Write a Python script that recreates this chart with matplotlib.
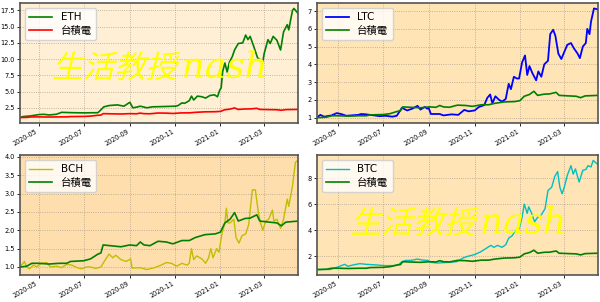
import matplotlib
matplotlib.use("Agg")
import matplotlib.pyplot as plt
import matplotlib.dates as mdates
from matplotlib.textpath import TextPath
from matplotlib.font_manager import FontProperties
from matplotlib.patches import PathPatch
from matplotlib.path import Path
from matplotlib.transforms import Affine2D, ScaledTranslation
import pandas as pd

plt.rcParams['font.family'] = ['DejaVu Sans', 'Noto Sans CJK TC']

# --- data (normalised to first day = 1) ---
eth_dates = ["2020-04-06", "2020-04-10", "2020-04-20", "2020-05-01", "2020-05-08", "2020-05-15", "2020-05-25",
             "2020-06-01", "2020-06-15", "2020-07-01", "2020-07-20", "2020-07-25", "2020-07-28", "2020-08-04",
             "2020-08-15", "2020-08-24", "2020-09-01", "2020-09-05", "2020-09-10", "2020-09-15", "2020-09-24",
             "2020-10-01", "2020-10-18", "2020-11-01", "2020-11-05", "2020-11-10", "2020-11-14", "2020-11-20",
             "2020-11-23", "2020-11-26", "2020-12-01", "2020-12-07", "2020-12-12", "2020-12-18", "2020-12-24",
             "2020-12-28", "2020-12-31", "2021-01-02", "2021-01-04", "2021-01-07", "2021-01-10", "2021-01-13",
             "2021-01-17", "2021-01-20", "2021-01-25", "2021-01-31", "2021-02-04", "2021-02-07", "2021-02-10",
             "2021-02-15", "2021-02-20", "2021-02-27", "2021-03-01", "2021-03-06", "2021-03-09", "2021-03-13",
             "2021-03-18", "2021-03-23", "2021-03-27", "2021-04-01", "2021-04-03", "2021-04-08", "2021-04-10",
             "2021-04-15"]
eth = [1.0, 1.15, 1.25, 1.45, 1.5, 1.4, 1.5, 1.8, 1.75, 1.72, 1.75, 2.3, 2.65, 2.85, 2.95, 2.75, 3.35, 2.5,
       2.6, 2.75, 2.5, 2.65, 2.7, 2.75, 2.85, 3.25, 3.2, 3.6, 4.3, 3.7, 4.3, 4.2, 4.0, 4.4, 4.5, 4.2, 5.2, 5.6,
       8.1, 9.4, 8.0, 9.5, 10.4, 11.4, 12.4, 12.5, 13.7, 13.0, 13.5, 11.9, 10.2, 9.6, 10.9, 13.0, 12.4, 13.5,
       12.9, 11.4, 14.2, 15.3, 14.5, 17.5, 17.8, 17.1]

ltc_dates = ["2020-04-02", "2020-04-07", "2020-04-12", "2020-04-22", "2020-04-29", "2020-05-05", "2020-05-12",
             "2020-05-28", "2020-06-01", "2020-06-08", "2020-06-26", "2020-07-04", "2020-07-13", "2020-07-19",
             "2020-07-26", "2020-08-02", "2020-08-09", "2020-08-16", "2020-08-20", "2020-08-26", "2020-08-29",
             "2020-08-31", "2020-09-03", "2020-09-15", "2020-09-20", "2020-10-01", "2020-10-10", "2020-10-18",
             "2020-10-24", "2020-11-01", "2020-11-07", "2020-11-14", "2020-11-18", "2020-11-22", "2020-11-25",
             "2020-11-29", "2020-12-04", "2020-12-08", "2020-12-13", "2020-12-17", "2020-12-20", "2020-12-24",
             "2020-12-28", "2020-12-31", "2021-01-04", "2021-01-08", "2021-01-11", "2021-01-14", "2021-01-18",
             "2021-01-23", "2021-01-26", "2021-01-30", "2021-02-03", "2021-02-08", "2021-02-11", "2021-02-15",
             "2021-02-18", "2021-02-22", "2021-02-26", "2021-03-02", "2021-03-06", "2021-03-11", "2021-03-15",
             "2021-03-20", "2021-03-23", "2021-03-27", "2021-03-31", "2021-04-02", "2021-04-05", "2021-04-07",
             "2021-04-11", "2021-04-16"]
ltc = [1.0, 1.15, 1.05, 1.12, 1.25, 1.2, 1.1, 1.15, 1.2, 1.18, 1.08, 1.1, 1.05, 1.1, 1.55, 1.4, 1.5, 1.66,
       1.45, 1.6, 1.5, 1.55, 1.2, 1.2, 1.12, 1.18, 1.15, 1.43, 1.35, 1.4, 1.6, 1.7, 2.1, 2.3, 1.8, 2.2, 2.0,
       1.9, 2.05, 2.9, 2.6, 3.3, 3.2, 3.2, 4.1, 4.5, 3.4, 3.9, 3.5, 3.1, 3.6, 3.3, 4.0, 4.2, 5.7, 5.95, 5.6,
       4.6, 4.3, 4.7, 5.1, 5.2, 4.9, 4.6, 4.35, 5.0, 5.2, 6.0, 5.7, 6.4, 7.15, 7.1]

bch_dates = ["2020-04-06", "2020-04-10", "2020-04-12", "2020-04-15", "2020-04-19", "2020-04-24", "2020-04-29",
             "2020-05-01", "2020-05-05", "2020-05-12", "2020-05-17", "2020-05-26", "2020-06-01", "2020-06-08",
             "2020-06-15", "2020-06-22", "2020-06-28", "2020-07-05", "2020-07-10", "2020-07-17", "2020-07-24",
             "2020-07-30", "2020-08-04", "2020-08-09", "2020-08-13", "2020-08-20", "2020-08-27", "2020-09-02",
             "2020-09-04", "2020-09-15", "2020-09-24", "2020-10-04", "2020-10-13", "2020-10-20", "2020-10-27",
             "2020-11-03", "2020-11-10", "2020-11-17", "2020-11-20", "2020-11-23", "2020-11-26", "2020-11-30",
             "2020-12-07", "2020-12-12", "2020-12-16", "2020-12-19", "2020-12-22", "2020-12-27", "2020-12-30",
             "2021-01-03", "2021-01-07", "2021-01-09", "2021-01-11", "2021-01-14", "2021-01-19", "2021-01-22",
             "2021-01-26", "2021-01-30", "2021-02-04", "2021-02-08", "2021-02-13", "2021-02-17", "2021-02-21",
             "2021-02-24", "2021-02-27", "2021-03-03", "2021-03-07", "2021-03-12", "2021-03-14", "2021-03-18",
             "2021-03-23", "2021-03-27", "2021-04-01", "2021-04-03", "2021-04-08", "2021-04-12", "2021-04-15"]
bch = [1.0, 1.1, 1.15, 1.0, 0.95, 1.05, 1.0, 1.05, 1.1, 1.12, 1.0, 1.02, 0.98, 1.07, 1.05, 0.98, 0.95, 1.0,
       1.0, 0.96, 1.0, 1.2, 1.35, 1.25, 1.32, 1.2, 1.15, 1.22, 0.97, 0.98, 0.93, 0.98, 1.05, 1.12, 1.1, 1.02,
       1.1, 1.05, 1.1, 1.5, 1.2, 1.3, 1.22, 1.1, 1.25, 1.5, 1.25, 1.5, 1.4, 1.9, 2.2, 2.6, 2.2, 2.2, 2.3, 1.8,
       1.65, 1.85, 1.9, 2.15, 3.1, 3.1, 2.5, 2.2, 2.0, 2.25, 2.3, 2.55, 2.25, 2.3, 2.05, 2.3, 2.85, 2.65, 3.2,
       3.85, 3.9]

btc_dates = ["2020-04-02", "2020-04-12", "2020-04-20", "2020-04-25", "2020-05-01", "2020-05-05", "2020-05-10",
             "2020-05-14", "2020-05-21", "2020-05-30", "2020-06-08", "2020-06-22", "2020-07-03", "2020-07-15",
             "2020-07-22", "2020-07-26", "2020-07-31", "2020-08-07", "2020-08-16", "2020-08-23", "2020-08-30",
             "2020-09-03", "2020-09-12", "2020-09-26", "2020-10-08", "2020-10-17", "2020-10-22", "2020-11-01",
             "2020-11-09", "2020-11-16", "2020-11-23", "2020-11-27", "2020-12-02", "2020-12-08", "2020-12-13",
             "2020-12-17", "2020-12-22", "2020-12-26", "2020-12-31", "2021-01-04", "2021-01-07", "2021-01-09",
             "2021-01-11", "2021-01-13", "2021-01-17", "2021-01-21", "2021-01-25", "2021-01-29", "2021-02-04",
             "2021-02-08", "2021-02-13", "2021-02-17", "2021-02-21", "2021-02-24", "2021-02-27", "2021-03-02",
             "2021-03-06", "2021-03-11", "2021-03-14", "2021-03-17", "2021-03-22", "2021-03-27", "2021-03-31",
             "2021-04-03", "2021-04-07", "2021-04-10", "2021-04-16"]
btc = [1.0, 1.02, 1.0, 1.1, 1.2, 1.3, 1.4, 1.25, 1.35, 1.45, 1.4, 1.35, 1.3, 1.3, 1.4, 1.6, 1.7, 1.7, 1.8,
       1.72, 1.7, 1.55, 1.5, 1.55, 1.6, 1.9, 2.0, 2.15, 2.35, 2.6, 2.85, 2.7, 2.85, 2.7, 2.9, 3.4, 3.6, 4.0,
       4.1, 5.0, 6.0, 5.65, 5.3, 5.8, 5.3, 4.65, 5.0, 5.1, 5.65, 7.05, 7.3, 8.1, 8.5, 7.3, 6.8, 7.3, 8.2,
       8.95, 8.3, 8.7, 7.7, 8.6, 8.65, 8.95, 8.85, 9.35, 9.05]

tsmc_dates = ["2020-04-02", "2020-04-07", "2020-04-15", "2020-04-22", "2020-05-01", "2020-05-15", "2020-05-29",
              "2020-06-08", "2020-06-13", "2020-07-01", "2020-07-10", "2020-07-20", "2020-07-24", "2020-07-27",
              "2020-08-10", "2020-08-20", "2020-09-01", "2020-09-10", "2020-09-15", "2020-09-20", "2020-09-28",
              "2020-10-09", "2020-10-20", "2020-10-29", "2020-11-10", "2020-11-20", "2020-11-28", "2020-12-11",
              "2020-12-25", "2021-01-01", "2021-01-07", "2021-01-14", "2021-01-20", "2021-01-25", "2021-02-03",
              "2021-02-10", "2021-02-19", "2021-02-23", "2021-03-08", "2021-03-18", "2021-03-24", "2021-03-30",
              "2021-04-16"]
tsmc = [1.0, 1.0, 1.02, 1.1, 1.1, 1.08, 1.1, 1.1, 1.15, 1.17, 1.22, 1.35, 1.38, 1.6, 1.57, 1.55, 1.6, 1.58,
        1.68, 1.6, 1.58, 1.7, 1.68, 1.63, 1.72, 1.72, 1.8, 1.88, 1.9, 1.95, 2.2, 2.3, 2.48, 2.25, 2.32, 2.33,
        2.42, 2.25, 2.22, 2.2, 2.12, 2.22, 2.25]

tsmc_label = "台積電"
watermark_cjk = "生活教授"
watermark_lat = "nash"

fig = plt.figure(figsize=(6.0, 3.02), dpi=100)

panels = [
    # name, dates, values, colour, lw, background, axes rect, x range, tsmc colour
    ("ETH", eth_dates, eth, "green", 1.2, "#FFEFD5", [0.0333, 0.5927, 0.4628, 0.3974], ("2020-04-06", "2021-04-15"), "red"),
    ("LTC", ltc_dates, ltc, "blue", 1.3, "#FFE4B5", [0.5278, 0.5927, 0.4683, 0.3974], ("2020-04-02", "2021-04-16"), "green"),
    ("BCH", bch_dates, bch, "#BFBF00", 1.0, "#FFDEAD", [0.0333, 0.0894, 0.4628, 0.3974], ("2020-04-06", "2021-04-15"), "green"),
    ("BTC", btc_dates, btc, "#00BFBF", 1.0, "#FFE4B5", [0.5278, 0.0894, 0.4683, 0.3974], ("2020-04-02", "2021-04-16"), "green"),
]

axes = []
for name, d, v, col, lw, bg, rect, xr, tcol in panels:
    ax = fig.add_axes(rect)
    ax.set_facecolor(bg)
    ax.plot(pd.to_datetime(d), v, color=col, lw=lw, label=name)
    ax.plot(pd.to_datetime(tsmc_dates), tsmc, color=tcol, lw=1.2, label=tsmc_label)
    ax.set_xlim(pd.Timestamp(xr[0]), pd.Timestamp(xr[1]))
    ax.xaxis.set_major_locator(mdates.MonthLocator(bymonth=[1, 3, 5, 7, 9, 11]))
    ax.xaxis.set_major_formatter(mdates.DateFormatter("%Y-%m"))
    ax.grid(True, linestyle=":", color="#b0a090", lw=0.6)
    ax.tick_params(labelsize=4.7, length=2.5, width=0.6, pad=1.2)
    for lab in ax.get_xticklabels():
        lab.set_rotation(30)
        lab.set_ha("right")
    for s in ax.spines.values():
        s.set_color("#555555")
        s.set_linewidth(1.2)
    ax.legend(loc="upper left", fontsize=7.5, handlelength=2.2, borderpad=0.4,
              labelspacing=0.35, framealpha=0.8)
    axes.append(ax)

axes[0].set_yticks([2.5, 5.0, 7.5, 10.0, 12.5, 15.0, 17.5])
axes[2].set_yticks([1.0, 1.5, 2.0, 2.5, 3.0, 3.5, 4.0])


def watermark(ax, cx, cy):
    size = 22.5
    p1 = TextPath((0, 0), watermark_cjk, size=size,
                  prop=FontProperties(family="Noto Sans CJK TC", weight="light"))
    p1 = Affine2D().skew_deg(14, 0).transform_path(p1)
    w1 = p1.get_extents().x1
    p2 = TextPath((w1 + 1, 0), watermark_lat, size=size * 1.15,
                  prop=FontProperties(family="DejaVu Serif", style="italic"))
    p = Path.make_compound_path(p1, p2)
    ext = p.get_extents()
    p = Affine2D().translate(-(ext.x0 + ext.x1) / 2, -(ext.y0 + ext.y1) / 2).transform_path(p)
    tr = Affine2D().scale(fig.dpi / 72) + ScaledTranslation(cx, cy, ax.transAxes)
    ax.add_artist(PathPatch(p, transform=tr, facecolor="#FFFF00", edgecolor="none", zorder=5))


watermark(axes[0], 0.50, 0.48)
watermark(axes[3], 0.50, 0.45)

fig.savefig("out.png", dpi=100)
